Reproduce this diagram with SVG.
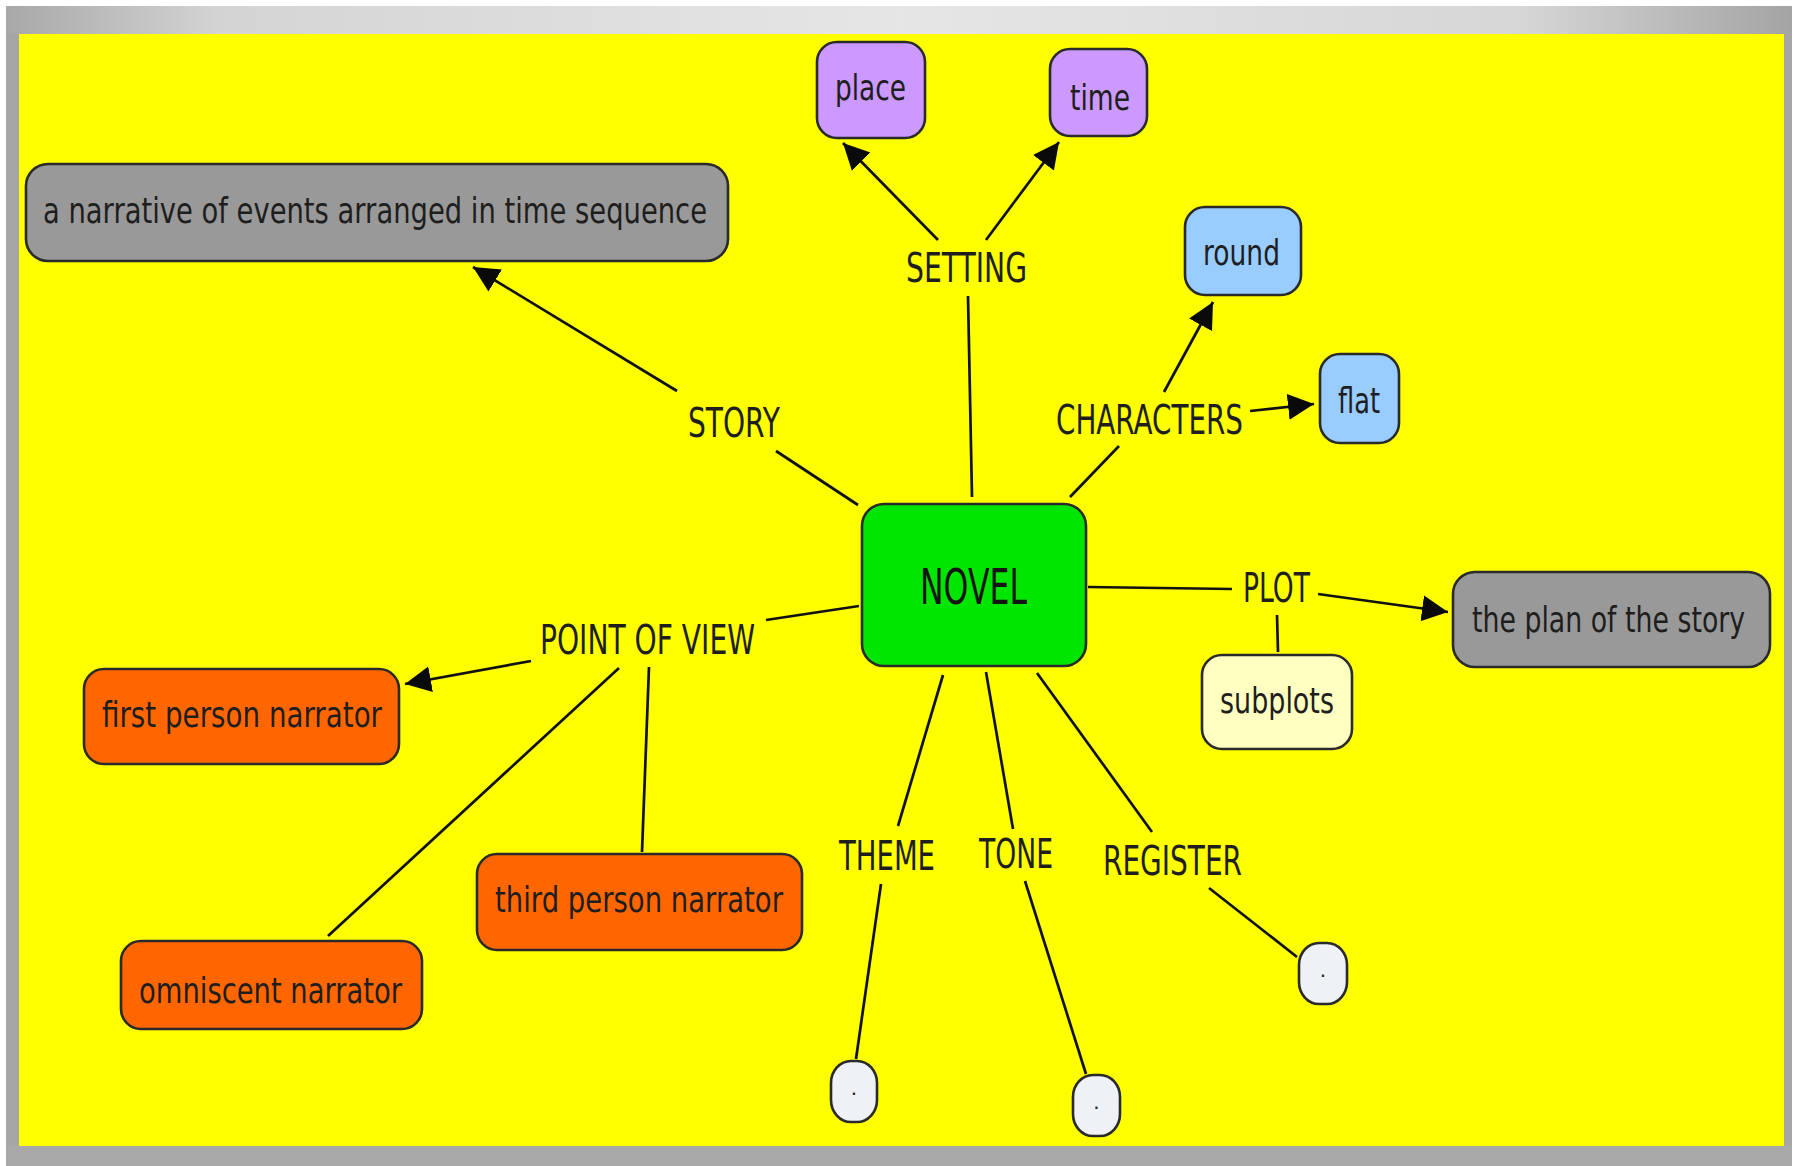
<svg xmlns="http://www.w3.org/2000/svg" width="1799" height="1166" viewBox="0 0 1799 1166">
<defs>
<linearGradient id="frameTop" x1="0" y1="0" x2="1" y2="0">
<stop offset="0" stop-color="#a8a8a8"/>
<stop offset="0.12" stop-color="#d4d4d4"/>
<stop offset="0.5" stop-color="#e6e6e6"/>
<stop offset="0.85" stop-color="#d6d6d6"/>
<stop offset="1" stop-color="#a4a4a4"/>
</linearGradient>
<marker id="arr" markerUnits="userSpaceOnUse" markerWidth="28" markerHeight="28" refX="26" refY="14" orient="auto">
<path d="M0,1 L26,14 L0,27 z" fill="#0a0a0a"/>
</marker>
<style>
.box{stroke:#2a2a2a;stroke-width:2.6}
.gray{fill:#999999}
.purple{fill:#cc99ff}
.blue{fill:#99ccff}
.green{fill:#00e600}
.orange{fill:#ff6600}
.pale{fill:#ffffc2}
.dot{fill:#eef1f6}
.t{font-family:"DejaVu Sans","Liberation Sans",sans-serif;font-size:35px;fill:#1e1e1e}
.lbl{font-family:"DejaVu Sans","Liberation Sans",sans-serif;font-size:41px;fill:#1e1e1e}
.big{font-family:"DejaVu Sans","Liberation Sans",sans-serif;font-size:49px;fill:#141414}
.dt{font-family:"DejaVu Sans","Liberation Sans",sans-serif;font-size:20px;fill:#222}
#connectors line{stroke:#111;stroke-width:2.7;fill:none}
</style>
</defs>
<rect x="0" y="0" width="1799" height="1166" fill="#ffffff"/>
<rect x="6" y="6" width="1786" height="1160" fill="url(#frameTop)"/>
<rect x="6" y="34" width="13" height="1132" fill="#a6a6a6"/>
<rect x="1784" y="34" width="8" height="1132" fill="#a6a6a6"/>
<rect x="6" y="1146" width="1786" height="20" fill="#a9a9a9"/>
<rect x="19" y="34" width="1765" height="1112" fill="#ffff00"/>

<g id="connectors">
<line x1="858" y1="505" x2="776" y2="451"/>
<line x1="677" y1="391" x2="473" y2="267" marker-end="url(#arr)"/>
<line x1="972" y1="497" x2="968" y2="296"/>
<line x1="938" y1="240" x2="843" y2="143" marker-end="url(#arr)"/>
<line x1="986" y1="240" x2="1059" y2="142" marker-end="url(#arr)"/>
<line x1="1070" y1="497" x2="1119" y2="446"/>
<line x1="1164" y1="392" x2="1213" y2="302" marker-end="url(#arr)"/>
<line x1="1250" y1="411" x2="1314" y2="404" marker-end="url(#arr)"/>
<line x1="1088" y1="587" x2="1232" y2="589"/>
<line x1="1318" y1="594" x2="1448" y2="612" marker-end="url(#arr)"/>
<line x1="1277" y1="615" x2="1278" y2="652"/>
<line x1="859" y1="606" x2="766" y2="620"/>
<line x1="531" y1="661" x2="405" y2="684" marker-end="url(#arr)"/>
<line x1="619" y1="668" x2="328" y2="936"/>
<line x1="649" y1="667" x2="642" y2="852"/>
<line x1="943" y1="675" x2="898" y2="826"/>
<line x1="881" y1="884" x2="856" y2="1059"/>
<line x1="986" y1="672" x2="1013" y2="829"/>
<line x1="1025" y1="881" x2="1086" y2="1074"/>
<line x1="1037" y1="673" x2="1152" y2="832"/>
<line x1="1209" y1="888" x2="1297" y2="957"/>
</g>

<g id="label-story"><text class="lbl" x="688" y="437" textLength="92" lengthAdjust="spacingAndGlyphs">STORY</text></g>
<g id="label-setting"><text class="lbl" x="906" y="282" textLength="121" lengthAdjust="spacingAndGlyphs">SETTING</text></g>
<g id="label-characters"><text class="lbl" x="1056" y="434" textLength="187" lengthAdjust="spacingAndGlyphs">CHARACTERS</text></g>
<g id="label-plot"><text class="lbl" x="1243" y="602" textLength="67" lengthAdjust="spacingAndGlyphs">PLOT</text></g>
<g id="label-pov"><text class="lbl" x="540" y="654" textLength="215" lengthAdjust="spacingAndGlyphs">POINT OF VIEW</text></g>
<g id="label-theme"><text class="lbl" x="839" y="870" textLength="96" lengthAdjust="spacingAndGlyphs">THEME</text></g>
<g id="label-tone"><text class="lbl" x="979" y="868" textLength="74" lengthAdjust="spacingAndGlyphs">TONE</text></g>
<g id="label-register"><text class="lbl" x="1103" y="875" textLength="139" lengthAdjust="spacingAndGlyphs">REGISTER</text></g>

<g id="node-narrative">
<rect class="box gray" x="26" y="164" width="702" height="97" rx="22"/>
<text class="t" x="43" y="223" textLength="664" lengthAdjust="spacingAndGlyphs">a narrative of events arranged in time sequence</text>
</g>
<g id="node-place">
<rect class="box purple" x="817" y="42" width="108" height="96" rx="20"/>
<text class="t" x="835" y="100" textLength="71" lengthAdjust="spacingAndGlyphs">place</text>
</g>
<g id="node-time">
<rect class="box purple" x="1050" y="49" width="97" height="87" rx="20"/>
<text class="t" x="1070" y="110" textLength="60" lengthAdjust="spacingAndGlyphs">time</text>
</g>
<g id="node-round">
<rect class="box blue" x="1185" y="207" width="116" height="88" rx="20"/>
<text class="t" x="1203" y="265" textLength="77" lengthAdjust="spacingAndGlyphs">round</text>
</g>
<g id="node-flat">
<rect class="box blue" x="1320" y="354" width="79" height="89" rx="20"/>
<text class="t" x="1338" y="413" textLength="42" lengthAdjust="spacingAndGlyphs">flat</text>
</g>
<g id="node-novel">
<rect class="box green" x="862" y="504" width="224" height="162" rx="22"/>
<text class="big" x="920" y="604" textLength="107" lengthAdjust="spacingAndGlyphs">NOVEL</text>
</g>
<g id="node-plan">
<rect class="box gray" x="1453" y="572" width="317" height="95" rx="22"/>
<text class="t" transform="translate(1472 632) scale(0.765 1)" x="0" y="0" textLength="357" lengthAdjust="spacingAndGlyphs">the plan of the story</text>
</g>
<g id="node-subplots">
<rect class="box pale" x="1202" y="655" width="150" height="94" rx="20"/>
<text class="t" x="1220" y="713" textLength="114" lengthAdjust="spacingAndGlyphs">subplots</text>
</g>
<g id="node-first">
<rect class="box orange" x="84" y="669" width="315" height="95" rx="20"/>
<text class="t" x="102" y="727" textLength="280" lengthAdjust="spacingAndGlyphs">first person narrator</text>
</g>
<g id="node-third">
<rect class="box orange" x="477" y="854" width="325" height="96" rx="20"/>
<text class="t" x="495" y="912" textLength="288" lengthAdjust="spacingAndGlyphs">third person narrator</text>
</g>
<g id="node-omniscent">
<rect class="box orange" x="121" y="941" width="301" height="88" rx="20"/>
<text class="t" x="139" y="1003" textLength="263" lengthAdjust="spacingAndGlyphs">omniscent narrator</text>
</g>
<g id="node-theme-dot">
<rect class="box dot" x="831" y="1061" width="46" height="61" rx="20" ry="22"/>
<text class="dt" x="854" y="1095" text-anchor="middle">.</text>
</g>
<g id="node-tone-dot">
<rect class="box dot" x="1073" y="1075" width="47" height="61" rx="20" ry="22"/>
<text class="dt" x="1096.5" y="1109" text-anchor="middle">.</text>
</g>
<g id="node-register-dot">
<rect class="box dot" x="1299" y="943" width="48" height="61" rx="20" ry="22"/>
<text class="dt" x="1323" y="977" text-anchor="middle">.</text>
</g>
</svg>
